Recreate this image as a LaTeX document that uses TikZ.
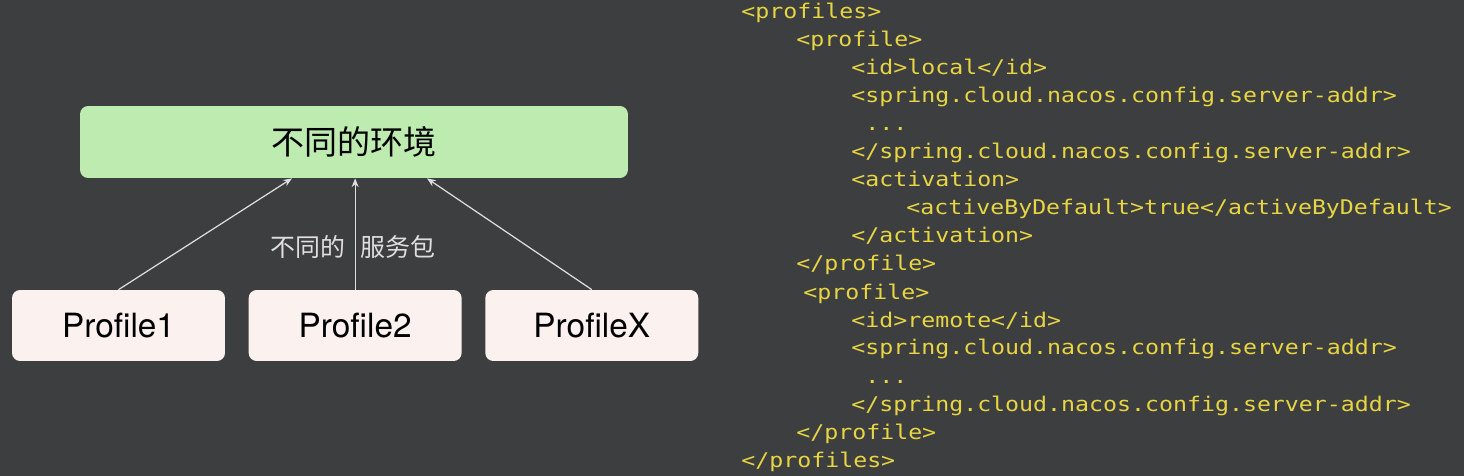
\documentclass[tikz,border=0pt]{standalone}
\usepackage{fontspec}
\setmainfont{TeX Gyre Heros}
\newfontfamily\cjk{Noto Sans CJK SC}
\newfontfamily\codefont[FakeStretch=1.15]{DejaVu Sans Mono}
\usetikzlibrary{positioning}
\usetikzlibrary{arrows.meta}

\definecolor{bggray}{RGB}{61,62,64}
\definecolor{envgreen}{RGB}{190,235,176}
\definecolor{profpink}{RGB}{251,242,239}
\definecolor{codeyellow}{RGB}{232,213,66}
\definecolor{arrowgray}{RGB}{222,222,222}

\tikzset{
  envbox/.style={fill=envgreen,rounded corners=0.16cm,minimum width=10.96cm,minimum height=1.44cm,
    font=\cjk\fontsize{18.8pt}{22pt}\selectfont,text=black},
  profbox/.style={fill=profpink,rounded corners=0.16cm,minimum width=4.26cm,minimum height=1.42cm,
    font=\fontsize{19pt}{22pt}\selectfont,text=black},
  uparrow/.style={draw=arrowgray,line width=0.7pt,-{Stealth[length=5pt,width=4pt]}},
  code/.style={anchor=base west,inner sep=0pt,text=codeyellow,font=\codefont\fontsize{11.5pt}{15.9pt}\selectfont}
}

\begin{document}
\begin{tikzpicture}[x=0.02cm,y=-0.02cm]
 \fill[bggray](0,0) rectangle (1464,476);

 % left side
 \node[envbox] (env) at (354,142) {不同的环境};
 \node[profbox] (p1) at (118.5,325.5) {Profile1};
 \node[profbox,right=0.46cm of p1] (p2) {Profile2};
 \node[profbox,right=0.46cm of p2] (px) {ProfileX};
 \draw[uparrow](p1.north) -- ([xshift=-1.24cm]env.south);
 \draw[uparrow](p2.north) -- (p2.north |- env.south);
 \draw[uparrow](px.north) -- ([xshift=1.46cm]env.south);
 \node[text=arrowgray,font=\cjk\fontsize{14.2pt}{17pt}\selectfont] (pkg) at (353,247) {不同的\hspace{0.2cm} 服务包};

 % right side
 \node[code] (l1) at (741,19) {<profiles>};
 \node[code] (l2) at (796,47) {<profile>};
 \node[code] (l3) at (851,75) {<id>local</id>};
 \node[code] (l4) at (851,103) {<spring.cloud.nacos.config.server-addr>};
 \node[code] (l5) at (865,131) {...};
 \node[code] (l6) at (851,159) {</spring.cloud.nacos.config.server-addr>};
 \node[code] (l7) at (851,187) {<activation>};
 \node[code] (l8) at (906,215) {<activeByDefault>true</activeByDefault>};
 \node[code] (l9) at (851,243) {</activation>};
 \node[code] (l10) at (796,271) {</profile>};
 \node[code] (l11) at (803,299) {<profile>};
 \node[code] (l12) at (851,327) {<id>remote</id>};
 \node[code] (l13) at (851,355) {<spring.cloud.nacos.config.server-addr>};
 \node[code] (l14) at (865,383) {...};
 \node[code] (l15) at (851,411) {</spring.cloud.nacos.config.server-addr>};
 \node[code] (l16) at (796,439) {</profile>};
 \node[code] (l17) at (741,467) {</profiles>};
\end{tikzpicture}
\end{document}
